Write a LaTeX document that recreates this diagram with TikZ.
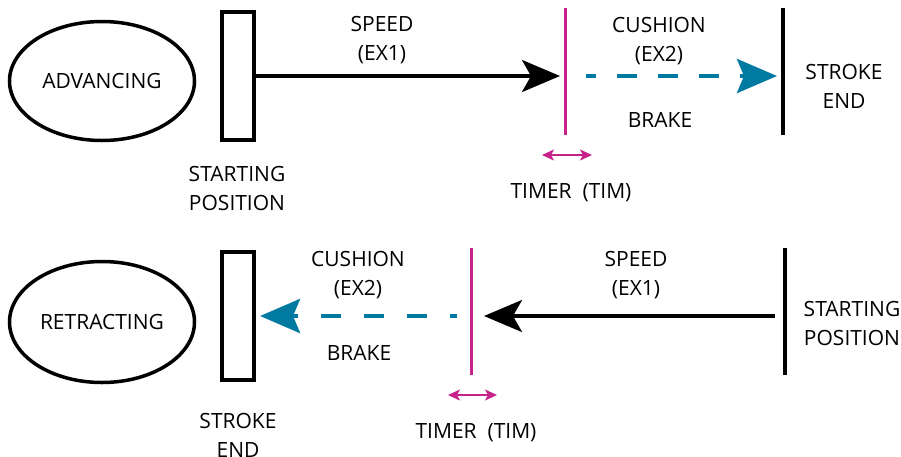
\documentclass[tikz,border=0pt]{standalone}
\usepackage{fontspec}
\setmainfont{Open Sans}
\usetikzlibrary{arrows.meta,shapes.geometric}
\definecolor{magc}{RGB}{198,34,140}
\definecolor{tealc}{RGB}{0,122,160}
\begin{document}
\begin{tikzpicture}[x=1pt,y=-1pt,
  font=\fontsize{21pt}{29pt}\selectfont,
  lbl/.style={align=center, inner sep=0pt, anchor=base},
  statenode/.style={ellipse, draw, line width=3.5pt, minimum width=185pt, minimum height=119pt, inner sep=0pt},
  posbox/.style={draw, line width=4pt, minimum width=32pt, minimum height=128pt, inner sep=0pt},
  magline/.style={draw=magc, line width=3.8pt},
  endline/.style={draw=black, line width=4pt},
  mainarrow/.style={draw=black, line width=3.5pt, -{Stealth[length=38pt, width=32pt, inset=9pt]}},
  dasharrow/.style={draw=tealc, line width=4.5pt, -{Stealth[length=40pt, width=34pt, inset=7pt]}},
  timerarrow/.style={draw=magc, line width=1.6pt, {Stealth[length=12pt, width=11pt, inset=3pt]}-{Stealth[length=12pt, width=11pt, inset=3pt]}}
]
\useasboundingbox (0,0) rectangle (901,456);

% ---------- top row: advancing ----------
\node[statenode] (adv) at (102,81) {ADVANCING};
\node[posbox] (r1) at (237.5,76) {};
\coordinate (m1a) at (565.5,8);
\coordinate (m1b) at (565.5,135);
\coordinate (e1a) at (783,8);
\coordinate (e1b) at (783,135);
\coordinate (a1tip) at (560,76);
\coordinate (d1s) at (586,76);
\coordinate (d1e) at (777,76);
\coordinate (t1a) at (542,155);
\coordinate (t1b) at (592,155);

\draw[magline] (m1a) -- (m1b);
\draw[endline] (e1a) -- (e1b);
\draw[mainarrow] (r1.east) -- (a1tip);
\draw[dasharrow, dash pattern=on 20pt off 21pt, dash phase=10pt] (d1s) -- (d1e);
\draw[timerarrow] (t1a) -- (t1b);

% base anchor of a two-line label = baseline of its last line
\node[lbl] (speed1) at (382,60) {SPEED\\(EX1)};
\node[lbl] (cush1) at (659,61) {CUSHION\\(EX2)};
\node[lbl] (brake1) at (660,127) {BRAKE};
\node[lbl] (send1) at (844,108) {STROKE\\END};
\node[lbl] (tim1) at (571,198) {TIMER\ \ (TIM)};
\node[lbl] (sp1) at (237,210) {STARTING\\POSITION};

% ---------- bottom row: retracting ----------
\node[statenode, minimum height=121pt] (ret) at (102,322) {RETRACTING};
\node[posbox] (r2) at (238,316) {};
\coordinate (m2a) at (471.5,248);
\coordinate (m2b) at (471.5,375);
\coordinate (e2a) at (785,248);
\coordinate (e2b) at (785,375);
\coordinate (a2s) at (775,316);
\coordinate (a2tip) at (484,316);
\coordinate (d2s) at (457,316);
\coordinate (d2e) at (260,316);
\coordinate (t2a) at (448,395);
\coordinate (t2b) at (497,395);

\draw[magline] (m2a) -- (m2b);
\draw[endline] (e2a) -- (e2b);
\draw[mainarrow] (a2s) -- (a2tip);
\draw[dasharrow, dash pattern=on 20pt off 23pt, dash phase=13pt] (d2s) -- (d2e);
\draw[timerarrow] (t2a) -- (t2b);

\node[lbl] (cush2) at (358,295) {CUSHION\\(EX2)};
\node[lbl] (brake2) at (359,360) {BRAKE};
\node[lbl] (speed2) at (636,295) {SPEED\\(EX1)};
\node[lbl] (sp2) at (852,345) {STARTING\\POSITION};
\node[lbl] (tim2) at (476,438) {TIMER\ \ (TIM)};
\node[lbl] (send2) at (238,457) {STROKE\\END};
\end{tikzpicture}
\end{document}
